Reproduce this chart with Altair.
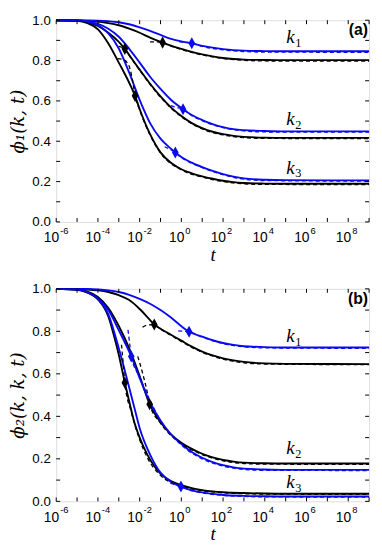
import altair as alt
import pandas as pd

# ---------------- data (log10 t, phi) ----------------
# panel (a): phi_1(k,t)
a_black_k1 = [(-6, 1.0), (-5, 0.999), (-4.5, 0.997), (-4, 0.993), (-3.5, 0.986), (-3, 0.975), (-2.5, 0.958),
              (-2, 0.938), (-1.5, 0.914), (-0.9, 0.889), (-0.5, 0.874), (0, 0.858), (0.5, 0.843), (1, 0.831),
              (1.5, 0.821), (2, 0.813), (2.5, 0.808), (3, 0.805), (4, 0.803), (5, 0.802), (9, 0.802)]
a_blue_k1 = [(-6, 1.0), (-4.5, 0.999), (-4, 0.998), (-3.5, 0.995), (-3, 0.99), (-2.5, 0.98), (-2, 0.965),
             (-1.5, 0.947), (-1, 0.927), (-0.5, 0.908), (0, 0.895), (0.5, 0.886), (1, 0.873), (1.5, 0.864),
             (2, 0.857), (2.5, 0.852), (3, 0.849), (4, 0.847), (5, 0.846), (9, 0.846)]
a_black_k2 = [(-6, 1.0), (-5, 0.998), (-4.5, 0.99), (-4, 0.972), (-3.5, 0.938), (-3, 0.893), (-2.71, 0.858),
              (-2.5, 0.828), (-2, 0.755), (-1.5, 0.685), (-1, 0.622), (-0.5, 0.568), (0, 0.525), (0.5, 0.49),
              (1, 0.465), (1.5, 0.447), (2, 0.435), (2.5, 0.427), (3, 0.422), (4, 0.418), (5, 0.417), (9, 0.417)]
a_blue_k2 = [(-6, 1.0), (-5, 0.999), (-4.5, 0.994), (-4, 0.982), (-3.5, 0.958), (-3, 0.918), (-2.5, 0.858),
             (-2, 0.79), (-1.5, 0.72), (-1, 0.66), (-0.5, 0.606), (0.08, 0.559), (0.5, 0.53), (1, 0.505),
             (1.5, 0.485), (2, 0.47), (2.5, 0.46), (3, 0.455), (4, 0.451), (5, 0.449), (9, 0.449)]
a_black_k3 = [(-6, 1.0), (-5, 0.997), (-4.5, 0.986), (-4, 0.955), (-3.5, 0.885), (-3, 0.79), (-2.5, 0.69),
              (-2.22, 0.625), (-2, 0.56), (-1.5, 0.435), (-1, 0.345), (-0.5, 0.293), (0, 0.261), (0.5, 0.241),
              (1, 0.226), (1.5, 0.214), (2, 0.204), (2.5, 0.197), (3, 0.193), (4, 0.19), (5, 0.189), (9, 0.189)]
a_blue_k3 = [(-6, 1.0), (-5, 0.999), (-4.5, 0.993), (-4, 0.975), (-3.5, 0.935), (-3, 0.86), (-2.5, 0.74),
             (-2, 0.605), (-1.5, 0.49), (-1, 0.413), (-0.5, 0.363), (-0.29, 0.344), (0, 0.322), (0.5, 0.294),
             (1, 0.272), (1.5, 0.253), (2, 0.237), (2.5, 0.225), (3, 0.216), (4, 0.209), (5, 0.207), (9, 0.206)]

a_black_k1_dash = [(-1.5, 0.893), (-1.2, 0.893), (-0.9, 0.889), (-0.5, 0.871), (0, 0.855), (0.5, 0.84),
                   (1, 0.828), (2, 0.81), (3, 0.801), (4, 0.798), (9, 0.797)]
a_blue_k1_dash = [(-0.1, 0.893), (0.2, 0.891), (0.5, 0.886), (1, 0.87), (2, 0.853), (3, 0.845), (4, 0.842),
                  (9, 0.841)]
a_black_k2_dash = [(-3.0, 0.87), (-2.85, 0.866), (-2.71, 0.858), (-2.5, 0.825), (-2, 0.752), (-1, 0.618),
                   (0, 0.521), (1, 0.461), (2, 0.431), (3, 0.418), (4, 0.414), (9, 0.413)]
a_blue_k2_dash = [(-0.5, 0.577), (-0.2, 0.567), (0.08, 0.559), (0.5, 0.527), (1, 0.502), (2, 0.467),
                  (3, 0.451), (4, 0.446), (9, 0.445)]
a_black_k3_dash = [(-3.05, 0.81), (-2.8, 0.805), (-2.6, 0.79), (-2.45, 0.755), (-2.33, 0.695), (-2.22, 0.625),
                   (-2, 0.555), (-1.5, 0.43), (-1, 0.341), (0, 0.258), (1, 0.222), (2, 0.2), (3, 0.189),
                   (4, 0.186), (9, 0.185)]
a_blue_k3_dash = [(-0.8, 0.373), (-0.5, 0.357), (-0.29, 0.344), (0, 0.319), (0.5, 0.291), (1, 0.269),
                  (2, 0.234), (3, 0.212), (4, 0.205), (9, 0.202)]

a_diamond_black = [(-0.9, 0.889), (-2.71, 0.858), (-2.22, 0.625)]
a_diamond_blue = [(0.5, 0.886), (0.08, 0.559), (-0.29, 0.344)]

# panel (b): phi_2(k,k,t)
b_black_k1 = [(-6, 1.0), (-5, 0.999), (-4.5, 0.997), (-4, 0.993), (-3.5, 0.985), (-3, 0.97), (-2.5, 0.947),
              (-2, 0.905), (-1.5, 0.853), (-1.3, 0.832), (-1, 0.812), (-0.5, 0.784), (0, 0.756), (0.5, 0.728),
              (1, 0.705), (1.5, 0.687), (2, 0.673), (2.5, 0.663), (3, 0.656), (4, 0.649), (5, 0.647), (9, 0.646)]
b_blue_k1 = [(-6, 1.0), (-4.5, 0.999), (-4, 0.997), (-3.5, 0.993), (-3, 0.985), (-2.5, 0.972), (-2, 0.953),
             (-1.5, 0.93), (-1, 0.9), (-0.5, 0.865), (0, 0.824), (0.37, 0.798), (1, 0.775), (1.5, 0.758),
             (2, 0.745), (2.5, 0.736), (3, 0.73), (4, 0.726), (5, 0.724), (9, 0.724)]
b_black_k2 = [(-6, 1.0), (-5, 0.997), (-4.5, 0.987), (-4, 0.962), (-3.5, 0.91), (-3, 0.825), (-2.5, 0.72),
              (-2, 0.59), (-1.52, 0.457), (-1, 0.372), (-0.5, 0.315), (0, 0.276), (0.5, 0.247), (1, 0.224),
              (1.5, 0.207), (2, 0.195), (2.5, 0.187), (3, 0.182), (4, 0.179), (5, 0.178), (9, 0.178)]
b_blue_k2 = [(-6, 1.0), (-5, 0.996), (-4.5, 0.984), (-4, 0.955), (-3.5, 0.9), (-3, 0.805), (-2.4, 0.682),
             (-2, 0.58), (-1.5, 0.465), (-1, 0.38), (-0.5, 0.315), (0, 0.27), (0.5, 0.232), (1, 0.205),
             (1.5, 0.185), (2, 0.17), (2.5, 0.16), (3, 0.154), (4, 0.15), (5, 0.148), (9, 0.148)]
b_black_k3 = [(-6, 1.0), (-5, 0.995), (-4.5, 0.982), (-4, 0.95), (-3.5, 0.87), (-3.18, 0.76), (-3, 0.69),
              (-2.71, 0.558), (-2.5, 0.47), (-2.25, 0.371), (-2, 0.3), (-1.63, 0.22), (-1, 0.13), (-0.5, 0.095),
              (0, 0.076), (0.5, 0.062), (1, 0.053), (1.5, 0.047), (2, 0.043), (3, 0.039), (4, 0.037),
              (5, 0.036), (9, 0.036)]
b_blue_k3 = [(-6, 1.0), (-5, 0.996), (-4.5, 0.984), (-4, 0.953), (-3.5, 0.88), (-3, 0.72), (-2.56, 0.558),
             (-2.2, 0.42), (-2, 0.345), (-1.5, 0.22), (-1, 0.135), (-0.5, 0.092), (0, 0.068), (0.5, 0.052),
             (1, 0.042), (1.5, 0.035), (2, 0.03), (3, 0.026), (4, 0.024), (5, 0.023), (9, 0.023)]

b_black_k1_dash = [(-1.86, 0.82), (-1.6, 0.83), (-1.3, 0.832), (-1, 0.81), (-0.5, 0.781), (0, 0.752),
                   (1, 0.701), (2, 0.669), (3, 0.652), (4, 0.646), (9, 0.643)]
b_blue_k1_dash = [(-0.15, 0.802), (0.1, 0.8), (0.37, 0.798), (1, 0.773), (2, 0.742), (3, 0.727), (4, 0.722),
                  (9, 0.72)]
b_black_k2_dash = [(-2.09, 0.682), (-1.85, 0.6), (-1.63, 0.511), (-1.52, 0.457), (-1, 0.368), (0, 0.272),
                   (1, 0.22), (2, 0.191), (3, 0.178), (4, 0.175), (9, 0.174)]
b_blue_k2_dash = [(-2.56, 0.807), (-2.48, 0.745), (-2.4, 0.682), (-2, 0.585), (-1.5, 0.475), (-1, 0.38),
                  (0, 0.265), (1, 0.2), (2, 0.166), (3, 0.15), (4, 0.146), (9, 0.145)]
b_black_k3_dash = [(-2.87, 0.737), (-2.79, 0.651), (-2.71, 0.558), (-2.4, 0.42), (-2, 0.29), (-1.6, 0.2),
                   (-1, 0.122), (0, 0.072), (1, 0.05), (2, 0.04), (3, 0.036), (4, 0.034), (9, 0.033)]
b_blue_k3_dash = [(-0.53, 0.086), (-0.25, 0.077), (-0.02, 0.07), (0.5, 0.05), (1, 0.04), (2, 0.028),
                  (3, 0.023), (4, 0.021), (9, 0.02)]

b_diamond_black = [(-1.3, 0.832), (-1.52, 0.457), (-2.71, 0.558)]
b_diamond_blue = [(0.37, 0.798), (-2.4, 0.682), (-0.02, 0.07)]

# labels
x_label_exps = [-6, -4, -2, 0, 2, 4, 6, 8]
x_tick_exps = list(range(-6, 10))
y_label_vals = [0.0, 0.2, 0.4, 0.6, 0.8, 1.0]
y_tick_vals = [0.0, 0.1, 0.2, 0.3, 0.4, 0.5, 0.6, 0.7, 0.8, 0.9, 1.0]
k_names = ["1", "2", "3"]
a_k_label_phi = [0.886, 0.481, 0.240]
b_k_label_phi = [0.750, 0.224, 0.062]
k_label_lt = 5.23

# ---------------- styling ----------------
BLUE = "#0a0af0"
SANS = "Liberation Sans"
SERIF = "Liberation Serif"
W = 318
HA = 205
HB = 216
DIAMOND = "M0,-1L0.55,0L0,1L-0.55,0Z"

xscale = alt.Scale(domain=[-6, 9], nice=False, zero=False)
yscale = alt.Scale(domain=[0, 1], nice=False, zero=False)
cscale = alt.Scale(domain=["black", "blue"], range=["#000000", BLUE])


def lines_df(items):
    rows = []
    for name, color, pts in items:
        for i, (lt, phi) in enumerate(pts):
            rows.append({"curve": name, "color": color, "lt": lt, "phi": phi, "ord": i})
    return pd.DataFrame(rows)


def points_df(black, blue):
    rows = [{"color": "black", "lt": a, "phi": b} for a, b in black]
    rows += [{"color": "blue", "lt": a, "phi": b} for a, b in blue]
    return pd.DataFrame(rows)


def panel(solid_items, dashed_items, dia_black, dia_blue, k_phi, letter, ytitle, H):
    X = alt.X("lt:Q", scale=xscale, axis=alt.Axis(
        values=x_label_exps, labelExpr="'10'", labelAlign="right", labelOffset=2.5,
        labelBaseline="top", labelPadding=9, labelFontSize=14, labelFont=SANS, labelColor="black",
        labelFlush=False, labelOverlap=False, ticks=False, tickSize=0, domain=False, grid=False,
        title="t", titleFont=SERIF, titleFontStyle="italic", titleFontWeight="normal",
        titleFontSize=19, titlePadding=1, titleColor="black"))
    Y = alt.Y("phi:Q", scale=yscale, axis=alt.Axis(
        values=y_label_vals, format=".1f", labelFontSize=13.5, labelFont=SANS, labelColor="black",
        labelPadding=6, ticks=False, tickSize=0, domain=False, grid=False,
        title=ytitle, titleFont="DejaVu Serif", titleFontStyle="italic", titleFontWeight="normal",
        titleFontSize=18.5, titlePadding=4, titleColor="black"))
    col = alt.Color("color:N", scale=cscale, legend=None)

    solid = alt.Chart(lines_df(solid_items)).mark_line(strokeWidth=1.9, interpolate="monotone").encode(
        x=X, y=Y, color=col, detail="curve:N", order="ord:Q")
    dashed = alt.Chart(lines_df(dashed_items)).mark_line(
        strokeWidth=1.3, strokeDash=[4, 3], interpolate="monotone").encode(
        x=X, y=Y, color=col, detail="curve:N", order="ord:Q")
    dia = alt.Chart(points_df(dia_black, dia_blue)).mark_point(
        shape=DIAMOND, filled=True, size=150, opacity=1).encode(x=X, y=Y, color=col)

    xt = pd.DataFrame({"lt": x_tick_exps})
    yt = pd.DataFrame({"phi": y_tick_vals})
    tb = alt.Chart(xt).mark_rule(color="black", strokeWidth=1).encode(
        x=X, y=alt.value(H), y2=alt.value(H - 4))
    tt = alt.Chart(xt).mark_rule(color="black", strokeWidth=1).encode(
        x=X, y=alt.value(0), y2=alt.value(4))
    tl = alt.Chart(yt).mark_rule(color="black", strokeWidth=1).encode(
        y=Y, x=alt.value(0), x2=alt.value(4))
    tr = alt.Chart(yt).mark_rule(color="black", strokeWidth=1).encode(
        y=Y, x=alt.value(W), x2=alt.value(W - 4))

    ex = pd.DataFrame({"lt": x_label_exps, "txt": [str(v) for v in x_label_exps]})
    exps = alt.Chart(ex).mark_text(align="left", baseline="middle", dx=4, fontSize=9.5, font=SANS,
                                   color="black").encode(x=X, y=alt.value(H + 9), text="txt:N")

    kd = pd.DataFrame({"lt": [k_label_lt] * 3, "phi": k_phi, "k": ["k"] * 3, "sub": k_names})
    kt = alt.Chart(kd).mark_text(align="center", baseline="alphabetic", fontSize=19, font=SERIF,
                                 fontStyle="italic", color="black").encode(x=X, y=Y, text="k:N")
    ks = alt.Chart(kd).mark_text(align="left", baseline="alphabetic", dx=5, dy=4, fontSize=12.5,
                                 font=SERIF, color="black").encode(x=X, y=Y, text="sub:N")

    ld = pd.DataFrame({"lbl": [letter]})
    lt = alt.Chart(ld).mark_text(align="right", baseline="top", fontSize=16, font=SANS, fontWeight="bold",
                                 color="black").encode(x=alt.value(W - 1), y=alt.value(2), text="lbl:N")

    return alt.layer(solid, dashed, dia, tb, tt, tl, tr, exps, kt, ks, lt).properties(width=W, height=H)


pa = panel(
    [("bk1", "black", a_black_k1), ("bl1", "blue", a_blue_k1), ("bk2", "black", a_black_k2),
     ("bl2", "blue", a_blue_k2), ("bk3", "black", a_black_k3), ("bl3", "blue", a_blue_k3)],
    [("bk1", "black", a_black_k1_dash), ("bl1", "blue", a_blue_k1_dash), ("bk2", "black", a_black_k2_dash),
     ("bl2", "blue", a_blue_k2_dash), ("bk3", "black", a_black_k3_dash), ("bl3", "blue", a_blue_k3_dash)],
    a_diamond_black, a_diamond_blue, a_k_label_phi, "(a)", "ϕ₁(k, t)", HA)

pb = panel(
    [("bk1", "black", b_black_k1), ("bl1", "blue", b_blue_k1), ("bk2", "black", b_black_k2),
     ("bl2", "blue", b_blue_k2), ("bk3", "black", b_black_k3), ("bl3", "blue", b_blue_k3)],
    [("bk1", "black", b_black_k1_dash), ("bl1", "blue", b_blue_k1_dash), ("bk2", "black", b_black_k2_dash),
     ("bl2", "blue", b_blue_k2_dash), ("bk3", "black", b_black_k3_dash), ("bl3", "blue", b_blue_k3_dash)],
    b_diamond_black, b_diamond_blue, b_k_label_phi, "(b)", "ϕ₂(k, k, t)", HB)

chart = alt.vconcat(pa, pb, spacing=16).properties(padding=0).configure_view(
    stroke="black", strokeWidth=1.2).configure(background="white")

chart.save("out.html", embed_options={"renderer": "svg", "actions": False})
